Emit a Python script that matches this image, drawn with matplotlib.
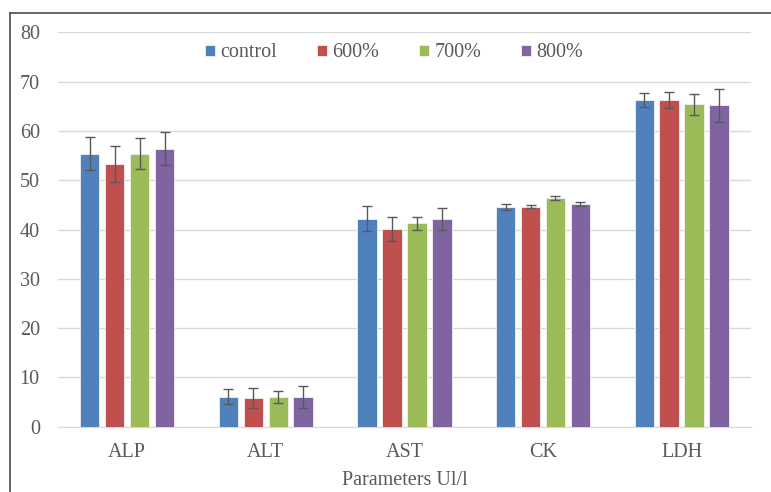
import numpy as np
import matplotlib.pyplot as plt
from matplotlib.patches import Patch
from matplotlib.lines import Line2D

# Values
parameters = ["ALP", "ALT", "AST", "CK", "LDH"]
groups = ["control", "600%", "700%", "800%"]
control = [55.4, 6.1, 42.2, 44.6, 66.3]
dose_600 = [53.3, 5.8, 40.1, 44.6, 66.3]
dose_700 = [55.4, 6.0, 41.3, 46.4, 65.4]
dose_800 = [56.4, 6.0, 42.2, 45.2, 65.2]
err_control = [3.3, 1.5, 2.5, 0.6, 1.5]
err_600 = [3.6, 2.1, 2.5, 0.3, 1.7]
err_700 = [3.1, 1.2, 1.3, 0.5, 2.2]
err_800 = [3.4, 2.2, 2.2, 0.35, 3.4]

values = [control, dose_600, dose_700, dose_800]
errors = [err_control, err_600, err_700, err_800]
colors = ["#4F81BD", "#C0504D", "#9BBB59", "#8064A2"]

plt.rcParams["font.family"] = ["Liberation Serif", "DejaVu Serif"]
text_color = "#595959"
fs = 14.5

fig = plt.figure(figsize=(7.71, 4.92), dpi=100)
ax = fig.add_axes([0.075, 0.133, 0.899, 0.801])

x = np.arange(len(parameters))
step = 0.18
width = 0.14
for i, (vals, errs, col) in enumerate(zip(values, errors, colors)):
    pos = x + (i - 1.5) * step
    ax.bar(pos, vals, width, color=col, edgecolor="#f2f2f2", linewidth=0.6,
           zorder=3, label=groups[i])
    ax.errorbar(pos, vals, yerr=errs, fmt="none", ecolor="#595959",
                elinewidth=1.0, capsize=3.8, capthick=1.0, zorder=4)

ax.set_xlim(-0.5, len(parameters) - 0.5)
ax.set_ylim(0, 80)
ax.set_yticks(range(0, 81, 10))
ax.set_xticks(x)
ax.set_xticklabels(parameters)
ax.grid(axis="y", color="#d9d9d9", linewidth=1.0, zorder=0)
ax.set_axisbelow(True)
for s in ["top", "right", "left"]:
    ax.spines[s].set_visible(False)
ax.spines["bottom"].set_color("#d9d9d9")
ax.tick_params(axis="both", length=0, labelsize=fs, colors=text_color)
ax.tick_params(axis="y", pad=13)
ax.tick_params(axis="x", pad=12)
ax.set_xlabel("Parameters Ul/l", fontsize=fs, color=text_color, labelpad=6)

handles = [Patch(facecolor=c, edgecolor="#f2f2f2", linewidth=0.6) for c in colors]
leg = ax.legend(handles, groups, loc="center", bbox_to_anchor=(0.485, 0.948),
                ncol=4, frameon=False, fontsize=fs, handlelength=0.5,
                handleheight=0.5, handletextpad=0.25, columnspacing=2.0)
for t in leg.get_texts():
    t.set_color(text_color)

# outer frame visible at top and left of the reference
fig.add_artist(Line2D([10 / 771, 1.0], [1 - 13 / 492, 1 - 13 / 492],
                      transform=fig.transFigure, color="#595959", linewidth=1.3))
fig.add_artist(Line2D([10 / 771, 10 / 771], [0.0, 1 - 13 / 492],
                      transform=fig.transFigure, color="#595959", linewidth=1.3))

fig.savefig("out.png", dpi=100)
